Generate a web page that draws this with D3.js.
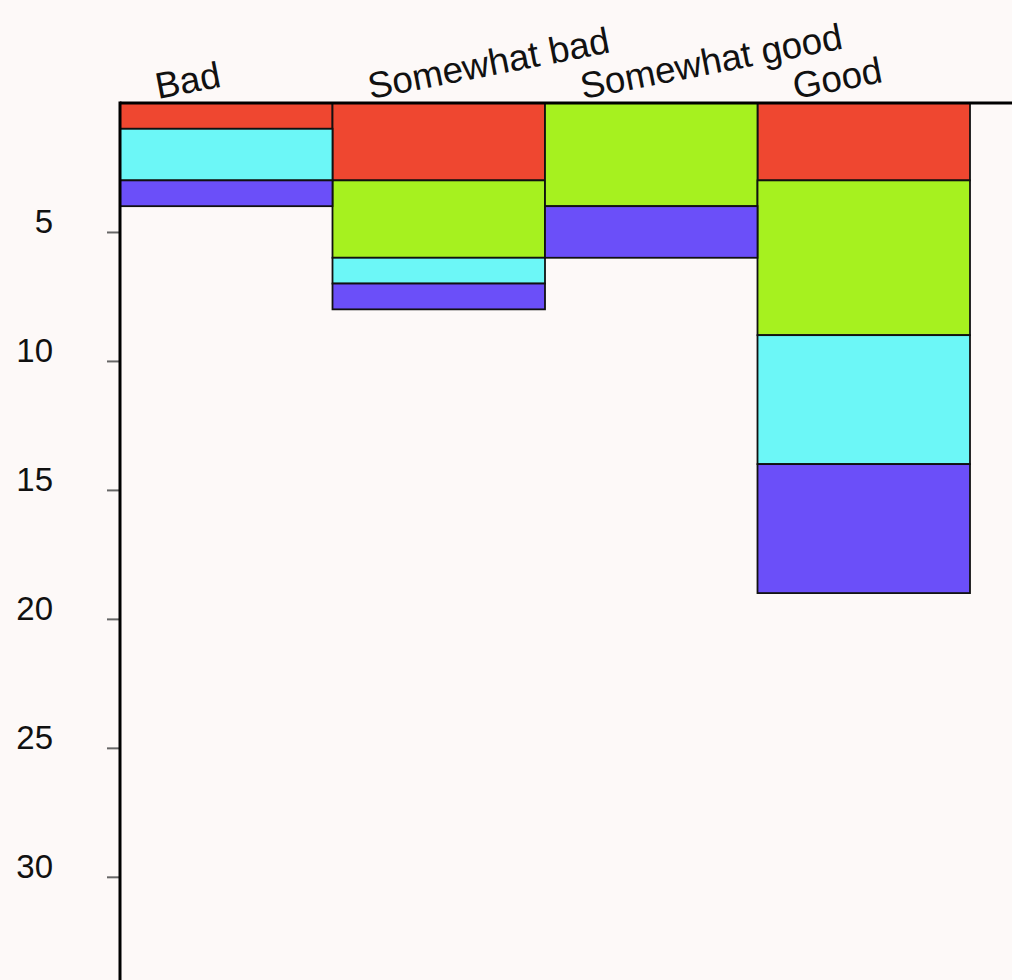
<!DOCTYPE html>
<html>
<head>
<meta charset="utf-8">
<script src="https://cdn.jsdelivr.net/npm/d3@7/dist/d3.min.js"></script>
<style>
  html, body { margin: 0; padding: 0; background: #fdf9f8; }
  svg { display: block; }
  text { font-family: "Liberation Sans", Arial, Helvetica, sans-serif; fill: #111; }
</style>
</head>
<body>
<svg id="chart" width="1012" height="980"></svg>
<script>
const categories = ["Bad", "Somewhat bad", "Somewhat good", "Good"];
const seriesNames = ["red", "green", "cyan", "purple"];
const redValues = [1, 3, 0, 3];
const greenValues = [0, 3, 4, 6];
const cyanValues = [2, 1, 0, 5];
const purpleValues = [1, 1, 2, 5];
const seriesColors = ["#ef4730", "#a6f11f", "#6cf7f7", "#6b4ff9"];
const yTicks = [5, 10, 15, 20, 25, 30];

const table = categories.map((c, i) => ({
  category: c,
  red: redValues[i], green: greenValues[i], cyan: cyanValues[i], purple: purpleValues[i]
}));
const stacked = d3.stack().keys(seriesNames)(table);

const svg = d3.select("#chart");
const marginLeft = 120, marginTop = 103;
const x = d3.scaleBand().domain(categories).range([marginLeft, 970]).padding(0);
const y = d3.scaleLinear().domain([0, 34]).range([marginTop, 980]);
const color = d3.scaleOrdinal().domain(seriesNames).range(seriesColors);

// bars
svg.append("g").selectAll("g").data(stacked).join("g")
  .attr("fill", d => color(d.key))
  .selectAll("rect").data(d => d.filter(s => s[1] - s[0] > 0)).join("rect")
  .attr("x", d => x(d.data.category))
  .attr("y", d => y(d[0]))
  .attr("width", x.bandwidth())
  .attr("height", d => y(d[1]) - y(d[0]))
  .attr("stroke", "#111")
  .attr("stroke-width", 1.8);

// y axis ticks
const yAxis = svg.append("g").attr("transform", `translate(${marginLeft},0)`)
  .call(d3.axisLeft(y).tickValues(yTicks).tickSize(13).tickSizeOuter(0));
yAxis.select(".domain").remove();
yAxis.selectAll(".tick line").attr("stroke", "#666").attr("stroke-width", 2);
yAxis.selectAll(".tick text")
  .attr("x", -67).attr("dy", "0.02em")
  .attr("text-anchor", "end")
  .style("font-size", "33px").style("fill", "#111");

// axis lines
svg.append("line").attr("x1", marginLeft).attr("x2", 1012).attr("y1", y(0)).attr("y2", y(0))
  .attr("stroke", "#000").attr("stroke-width", 3);
svg.append("line").attr("x1", marginLeft).attr("x2", marginLeft).attr("y1", y(0) - 1.5).attr("y2", 980)
  .attr("stroke", "#000").attr("stroke-width", 3);

// category labels
svg.append("g").selectAll("text").data(categories).join("text")
  .attr("transform", d => `translate(${x(d) + 38},${marginTop - 4}) rotate(-11)`)
  .style("font-size", "36.8px")
  .text(d => d);
</script>
</body>
</html>
